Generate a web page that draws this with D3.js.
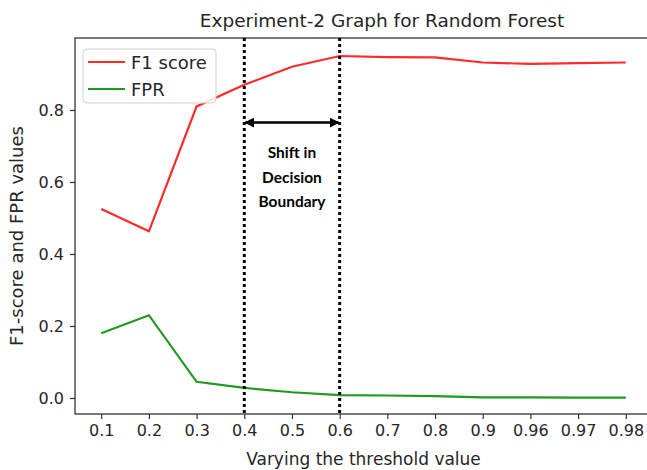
<!DOCTYPE html>
<html>
<head>
<meta charset="utf-8">
<script src="https://cdn.jsdelivr.net/npm/d3@7"></script>
<style>
  body { margin: 0; background: #fff; }
  text { font-family: "DejaVu Sans", sans-serif; fill: #262626; }
</style>
</head>
<body>
<script>
const thresholds = ['0.1', '0.2', '0.3', '0.4', '0.5', '0.6', '0.7', '0.8', '0.9', '0.96', '0.97', '0.98'];
const f1Score = [0.525, 0.463, 0.81, 0.87, 0.92, 0.95, 0.947, 0.946, 0.932, 0.928, 0.93, 0.932];
const fprValues = [0.18, 0.23, 0.045, 0.028, 0.016, 0.008, 0.007, 0.005, 0.002, 0.002, 0.001, 0.001];
const yTicks = [0.0, 0.2, 0.4, 0.6, 0.8];
const shiftFrom = '0.4', shiftTo = '0.6';
const shiftText = ['Shift in', 'Decision', 'Boundary'];

const width = 647, height = 470;
const margin = { left: 75, right: 652, top: 38, bottom: 414 };

const svg = d3.select('body').append('svg').attr('width', width).attr('height', height);

const x = d3.scalePoint()
    .domain(thresholds)
    .range([margin.left, margin.right])
    .padding(0.55);

const y = d3.scaleLinear()
    .domain([-0.0444, 1.0])
    .range([margin.bottom, margin.top]);

// arrow head, reversed at the start
svg.append('defs').append('marker')
    .attr('id', 'arr')
    .attr('viewBox', '0 0 10 10')
    .attr('refX', 9).attr('refY', 5)
    .attr('markerWidth', 4).attr('markerHeight', 4)
    .attr('orient', 'auto-start-reverse')
  .append('path')
    .attr('d', 'M0,0 L10,5 L0,10 Z')
    .attr('fill', '#000');

// title
svg.append('text')
    .attr('x', 382).attr('y', 27)
    .attr('text-anchor', 'middle')
    .style('font-size', '18.5px')
    .text('Experiment-2 Graph for Random Forest');

// axes
const xAxis = d3.axisBottom(x).tickSizeOuter(0).tickSize(5).tickPadding(6);
const yAxis = d3.axisLeft(y).tickValues(yTicks).tickFormat(d3.format('.1f')).tickSizeOuter(0).tickSize(5).tickPadding(6);

const gx = svg.append('g')
    .attr('transform', 'translate(0,' + margin.bottom + ')')
    .call(xAxis);
const gy = svg.append('g')
    .attr('transform', 'translate(' + margin.left + ',0)')
    .call(yAxis);

[gx, gy].forEach(function(g) {
  g.selectAll('text').style('font-size', '16px').attr('fill', '#262626').attr('font-family', 'DejaVu Sans');
  g.selectAll('line').attr('stroke', '#333').attr('stroke-width', 1.2);
  g.select('.domain').remove();
});

// spines (right one falls just outside the picture)
svg.append('rect')
    .attr('x', margin.left).attr('y', margin.top)
    .attr('width', margin.right - margin.left)
    .attr('height', margin.bottom - margin.top)
    .attr('fill', 'none').attr('stroke', '#333').attr('stroke-width', 1.3);

// axis labels
svg.append('text')
    .attr('x', (margin.left + margin.right) / 2).attr('y', 465)
    .attr('text-anchor', 'middle')
    .style('font-size', '17px')
    .text('Varying the threshold value');

svg.append('text')
    .attr('transform', 'translate(23,' + 236 + ') rotate(-90)')
    .attr('text-anchor', 'middle')
    .style('font-size', '18px')
    .text('F1-score and FPR values');

// lines
const line = d3.line()
    .x(function(d, i) { return x(thresholds[i]); })
    .y(function(d) { return y(d); });

svg.append('path')
    .attr('d', line(fprValues))
    .attr('fill', 'none').attr('stroke', '#1f9a1f').attr('stroke-width', 2.2);
svg.append('path')
    .attr('d', line(f1Score))
    .attr('fill', 'none').attr('stroke', '#ff2a2a').attr('stroke-width', 2.2);

// decision boundary shift
[shiftFrom, shiftTo].forEach(function(t) {
  svg.append('line')
      .attr('x1', x(t)).attr('x2', x(t))
      .attr('y1', margin.top).attr('y2', margin.bottom)
      .attr('stroke', '#000').attr('stroke-width', 3)
      .attr('stroke-dasharray', '3,3');
});

svg.append('line')
    .attr('x1', x(shiftFrom) + 1).attr('x2', x(shiftTo) - 1)
    .attr('y1', y(0.765)).attr('y2', y(0.765))
    .attr('stroke', '#000').attr('stroke-width', 2.5)
    .attr('marker-start', 'url(#arr)')
    .attr('marker-end', 'url(#arr)');

svg.append('g').selectAll('text')
    .data(shiftText)
    .join('text')
    .attr('x', (x(shiftFrom) + x(shiftTo)) / 2)
    .attr('y', function(d, i) { return 158 + i * 24.5; })
    .attr('text-anchor', 'middle')
    .style('font-family', 'Lato, sans-serif')
    .style('font-weight', 'bold')
    .style('font-size', '15.5px')
    .style('fill', '#000')
    .text(function(d) { return d; });

// legend
const legend = svg.append('g');
legend.append('rect')
    .attr('x', 83).attr('y', 49).attr('width', 133).attr('height', 54).attr('rx', 4)
    .attr('fill', '#fff').attr('fill-opacity', 0.85)
    .attr('stroke', '#d0d0d0');
const legendItems = [['F1 score', '#ff2a2a'], ['FPR', '#1f9a1f']];
legendItems.forEach(function(d, i) {
  const ly = 62 + i * 27;
  legend.append('line')
      .attr('x1', 88).attr('x2', 125).attr('y1', ly).attr('y2', ly)
      .attr('stroke', d[1]).attr('stroke-width', 2.2);
  legend.append('text')
      .attr('x', 131).attr('y', ly + 6.5)
      .style('font-size', '18px')
      .text(d[0]);
});
</script>
</body>
</html>
